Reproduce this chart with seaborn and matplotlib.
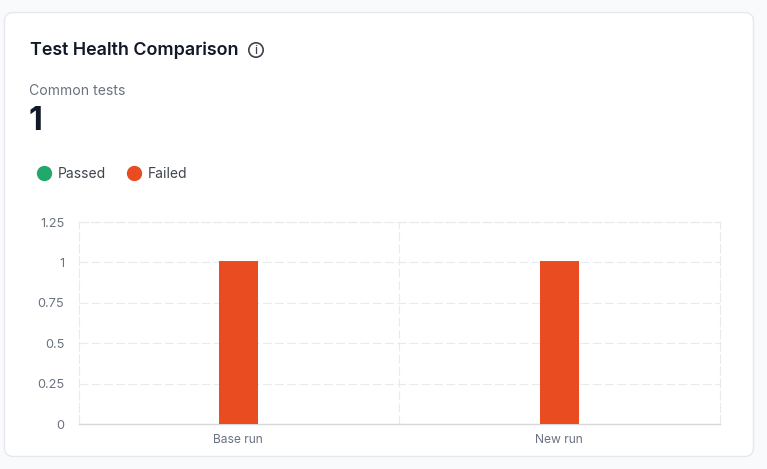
import matplotlib
matplotlib.use("Agg")
import matplotlib.pyplot as plt
import pandas as pd
import seaborn as sns
from matplotlib.lines import Line2D
from matplotlib.patches import Circle, FancyBboxPatch
from matplotlib.transforms import Affine2D

categories = ["Base run", "New run"]
failed = [1, 1]
passed = [0.008, 0.008]
y_ticks = [0, 0.25, 0.5, 0.75, 1, 1.25]
y_labels = ["0", "0.25", "0.5", "0.75", "1", "1.25"]
series_names = ["Passed", "Failed"]
title = "Test Health Comparison"
stat_label = "Common tests"
stat_value = "1"

GREEN = "#22a86b"
RED = "#e84c20"
W, H = 767, 469

sns.set_theme(style="white")
plt.rcParams["font.family"] = ["Inter", "DejaVu Sans"]

fig = plt.figure(figsize=(W / 100, H / 100), dpi=100, facecolor="#f8fafb")
px = Affine2D().scale(1, -1).translate(0, H)  # pixel coordinates from the top left

fig.add_artist(FancyBboxPatch((4.5, 12.5), 749, 444, boxstyle="round,pad=0,rounding_size=9",
                              transform=px, facecolor="white", edgecolor="#e6e8eb", linewidth=1,
                              zorder=-5))


def txt(x, y, s, **kw):
    fig.text(x, y, s, transform=px, **kw)


txt(29.5, 50.5, title, fontsize=12.9, fontweight="semibold", color="#111827", va="center", ha="left")
fig.add_artist(Circle((256, 50), 7.2, transform=px, facecolor="none", edgecolor="#3f444d", linewidth=1.2))
txt(256, 50.5, "i", fontsize=8.5, color="#3f444d", va="center", ha="center", fontweight="medium")
txt(29, 90.5, stat_label, fontsize=10.1, color="#6b7280", va="center", ha="left")
txt(29, 121, stat_value, fontsize=23, fontweight="bold", color="#111827", va="center", ha="left")

ax = fig.add_axes([78.8 / W, (H - 424) / H, 641.6 / W, 202 / H], facecolor="none")
df = pd.DataFrame({"category": categories, "failed": failed, "passed": passed})
sns.barplot(data=df, x="category", y="failed", color=RED, saturation=1, width=0.122,
            edgecolor=RED, linewidth=0, ax=ax, zorder=3)
sns.barplot(data=df, x="category", y="passed", color=GREEN, saturation=1, width=0.122,
            edgecolor=GREEN, linewidth=0, bottom=df["failed"], ax=ax, zorder=3)

ax.set_xlim(-0.497, 1.5025)
ax.set_ylim(0, 1.25)
ax.set_yticks(y_ticks, y_labels)
ax.set_xlabel("")
ax.set_ylabel("")
ax.set_xticks([0.5], minor=True)
ax.tick_params(axis="both", which="both", length=0)
ax.tick_params(axis="y", labelsize=9.2, labelcolor="#6b7280", pad=10.5)
ax.tick_params(axis="x", labelsize=8.7, labelcolor="#6b7280", pad=7.5)
dash = dict(color="#e8eaed", linewidth=0.8, linestyle=(0, (8, 3)))
ax.grid(True, axis="y", which="major", **dash)
ax.grid(True, axis="x", which="minor", **dash)
ax.set_axisbelow(True)
for side in ("top", "left", "right"):
    ax.spines[side].set(color="#e8eaed", linewidth=0.8, linestyle=(0, (8, 3)), visible=True)
ax.spines["bottom"].set(color="#d4d7dc", linewidth=1, visible=True)

handles = [Line2D([], [], linestyle="", marker="o", markersize=10, color=c) for c in (GREEN, RED)]
fig.legend(handles, series_names, loc="center left", bbox_to_anchor=(30, 174.3), bbox_transform=px,
           frameon=False, ncol=2, fontsize=10, labelcolor="#3f444d", handletextpad=0,
           columnspacing=1.0, borderpad=0, borderaxespad=0)

fig.savefig("out.png", dpi=100, facecolor=fig.get_facecolor())
